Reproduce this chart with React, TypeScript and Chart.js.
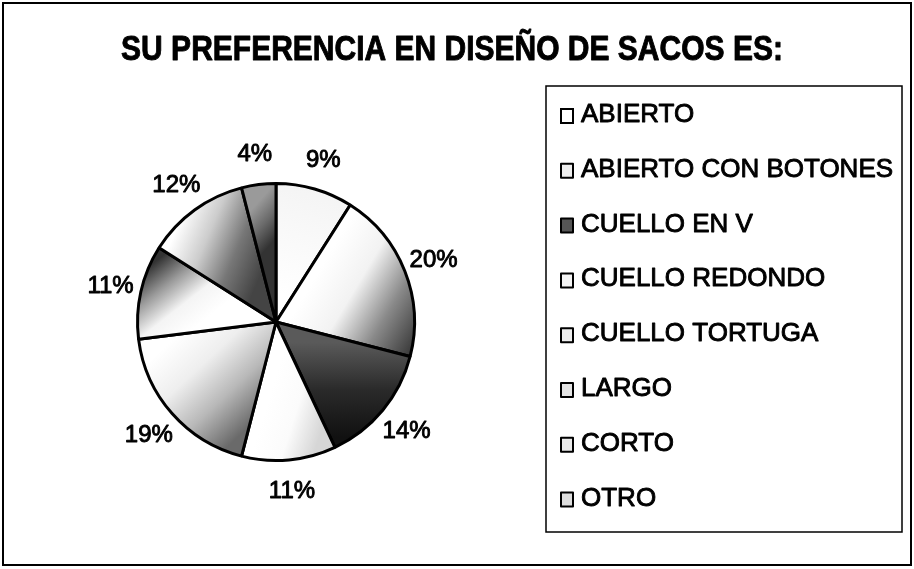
import React, { useEffect, useRef } from "react";
import { Chart, registerables } from "chart.js";

Chart.register(...registerables);

// ---- data ----
const TITLE = "SU PREFERENCIA EN DISEÑO DE SACOS ES:";
const categories = [
  "ABIERTO",
  "ABIERTO CON BOTONES",
  "CUELLO EN V",
  "CUELLO REDONDO",
  "CUELLO TORTUGA",
  "LARGO",
  "CORTO",
  "OTRO",
];
const percentages = [9, 20, 14, 11, 19, 11, 12, 4];

// ---- styles (grey shading per slice: gradient between two points given as
// [fraction of slice angle, fraction of radius]) ----
type Shade = { from: [number, number]; to: [number, number]; stops: string[]; flat: string; key: string };
const sliceShades: Shade[] = [
  { from: [0.5, 0.2], to: [0.5, 1], stops: ["#ffffff", "#f4f4f4"], flat: "#fbfbfb", key: "#ffffff" },
  { from: [0.15, 0.35], to: [0.95, 1], stops: ["#ffffff", "#f2f2f2", "#8a8a8a", "#3a3a3a"], flat: "#dddddd", key: "#eeeeee" },
  { from: [0.05, 0.5], to: [0.9, 0.95], stops: ["#5a5a5a", "#2a2a2a", "#111111"], flat: "#333333", key: "#555555" },
  { from: [0.8, 0.6], to: [0.0, 0.8], stops: ["#ffffff", "#fbfbfb", "#d6d6d6"], flat: "#f4f4f4", key: "#f4f4f4" },
  { from: [0.9, 0.85], to: [0.05, 0.85], stops: ["#ffffff", "#eeeeee", "#b8b8b8", "#6a6a6a"], flat: "#cccccc", key: "#eeeeee" },
  { from: [0.25, 0.5], to: [0.9, 0.95], stops: ["#ffffff", "#f4f4f4", "#9a9a9a", "#333333"], flat: "#dddddd", key: "#e4e4e4" },
  { from: [0.15, 0.95], to: [0.9, 0.35], stops: ["#ffffff", "#cccccc", "#777777", "#444444"], flat: "#aaaaaa", key: "#eaeaea" },
  { from: [0.0, 0.8], to: [1.0, 0.6], stops: ["#9a9a9a", "#6a6a6a", "#333333"], flat: "#777777", key: "#dddddd" },
];

const FONT = "'Liberation Sans', Arial, Helvetica, sans-serif";

function sliceFill(c: any) {
  const i = c.dataIndex;
  const s = sliceShades[i % sliceShades.length];
  const chart = c.chart;
  const area = chart.chartArea;
  if (!area || i == null) return s.flat;
  const cx = (area.left + area.right) / 2;
  const cy = (area.top + area.bottom) / 2;
  const r = Math.min(area.width, area.height) / 2;
  const vals = chart.data.datasets[0].data as number[];
  const total = vals.reduce((a, b) => a + b, 0);
  let cum = 0;
  for (let k = 0; k < i; k++) cum += vals[k];
  const a0 = -Math.PI / 2 + (2 * Math.PI * cum) / total;
  const a1 = a0 + (2 * Math.PI * vals[i]) / total;
  const pt = (p: [number, number]) => {
    const a = a0 + (a1 - a0) * p[0];
    return [cx + Math.cos(a) * r * p[1], cy + Math.sin(a) * r * p[1]];
  };
  const p0 = pt(s.from);
  const p1 = pt(s.to);
  const g = chart.ctx.createLinearGradient(p0[0], p0[1], p1[0], p1[1]);
  s.stops.forEach((col, k) => g.addColorStop(k / (s.stops.length - 1), col));
  return g;
}

function heavyText(ctx: CanvasRenderingContext2D, text: string, x: number, y: number, w: number) {
  ctx.lineWidth = w;
  ctx.strokeStyle = "#000";
  ctx.lineJoin = "round";
  ctx.strokeText(text, x, y);
  ctx.fillText(text, x, y);
}

const decorPlugin = {
  id: "decor",
  beforeDraw(chart: any) {
    const ctx = chart.ctx;
    ctx.save();
    ctx.fillStyle = "#ffffff";
    ctx.fillRect(0, 0, chart.width, chart.height);
    ctx.restore();
  },
  afterDraw(chart: any) {
    const ctx: CanvasRenderingContext2D = chart.ctx;
    ctx.save();
    // outer frame
    ctx.strokeStyle = "#000";
    ctx.lineWidth = 2;
    ctx.strokeRect(3, 3, 908, 562);

    // title
    ctx.save();
    ctx.fillStyle = "#000";
    ctx.font = `bold 30px ${FONT}`;
    ctx.textAlign = "center";
    ctx.textBaseline = "alphabetic";
    ctx.translate(452, 60);
    ctx.scale(1, 1.15);
    heavyText(ctx, TITLE, 0, 0, 0.8);
    ctx.restore();

    // legend box
    ctx.lineWidth = 1.5;
    ctx.strokeStyle = "#000";
    ctx.strokeRect(546, 86, 356, 446);
    ctx.font = `26px ${FONT}`;
    ctx.textAlign = "left";
    ctx.textBaseline = "alphabetic";
    const labels = chart.data.labels as string[];
    labels.forEach((lab, i) => {
      const base = 122 + i * 54.8;
      ctx.fillStyle = sliceShades[i].key;
      ctx.fillRect(561, base - 13, 12, 14);
      ctx.lineWidth = 2;
      ctx.strokeStyle = "#000";
      ctx.strokeRect(561, base - 13, 12, 14);
      ctx.fillStyle = "#000";
      heavyText(ctx, lab, 581, base, 0.9);
    });

    // percentage labels around the pie
    const meta = chart.getDatasetMeta(0);
    const vals = chart.data.datasets[0].data as number[];
    ctx.font = `24px ${FONT}`;
    ctx.textAlign = "center";
    ctx.textBaseline = "middle";
    ctx.fillStyle = "#000";
    meta.data.forEach((el: any, i: number) => {
      const p = el.getProps(["x", "y", "startAngle", "endAngle", "outerRadius"], true);
      const mid = (p.startAngle + p.endAngle) / 2;
      const d = p.outerRadius + 31;
      heavyText(ctx, `${vals[i]}%`, p.x + Math.cos(mid) * d, p.y + Math.sin(mid) * d + 1, 0.9);
    });
    ctx.restore();
  },
};

export default function App() {
  const ref = useRef<HTMLCanvasElement | null>(null);
  useEffect(() => {
    if (!ref.current) return;
    Chart.defaults.font.family = FONT;
    const chart = new Chart(ref.current, {
      type: "pie",
      data: {
        labels: categories,
        datasets: [
          {
            data: percentages,
            backgroundColor: sliceFill as any,
            borderColor: "#000000",
            borderWidth: 3,
          },
        ],
      },
      options: {
        responsive: false,
        animation: false,
        layout: { padding: { left: 136, top: 182, right: 498, bottom: 107 } },
        plugins: {
          legend: { display: false },
          title: { display: false },
          tooltip: { enabled: false },
        },
      },
      plugins: [decorPlugin],
    });
    return () => chart.destroy();
  }, []);
  return (
    <div style={{ position: "absolute", left: 0, top: 0, width: 914, height: 569 }}>
      <canvas ref={ref} width={914} height={569} style={{ width: 914, height: 569, display: "block" }} />
    </div>
  );
}
